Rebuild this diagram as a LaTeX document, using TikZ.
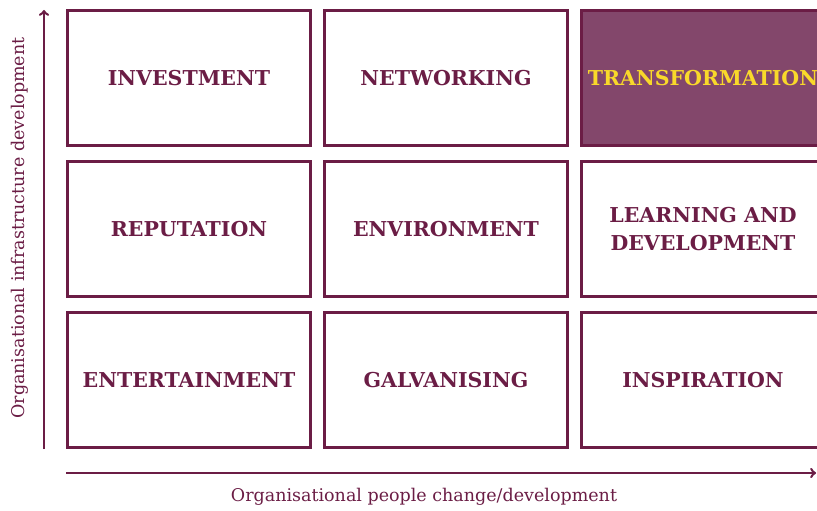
\documentclass[tikz,border=0pt]{standalone}
\usepackage{fontspec}
\setmainfont{DejaVu Serif}
\usetikzlibrary{positioning, arrows}
\definecolor{plum}{HTML}{6B1D45}
\definecolor{plumfill}{HTML}{83476B}
\definecolor{gold}{HTML}{F9D92A}
\tikzset{
box/.style={draw=plum, line width=2.8pt, minimum width=243.2pt, minimum height=135.2pt, inner sep=0pt, align=center, text=plum, font=\bfseries\fontsize{20.5}{28}\selectfont}, % one cell of the grid
axis/.style={draw=plum, line width=2.5pt, -to}, % the two arrows
axislabel/.style={text=plum, font=\fontsize{17.5}{20}\selectfont}, % text along the arrows
}

\begin{document}
\begin{tikzpicture}[x=1pt, y=-1pt, node distance={13pt and 11pt}]
    \clip (0,0) rectangle (817,511);

    \node[box] (inv) at (189,78) {INVESTMENT};
    \node[box] (net) [right=of inv] {NETWORKING};
    \node[box, fill=plumfill, text=gold] (tra) [right=of net] {TRANSFORMATION};
    \node[box] (rep) [below=of inv] {REPUTATION};
    \node[box] (env) [right=of rep] {ENVIRONMENT};
    \node[box] (lea) [right=of env] {LEARNING AND\\DEVELOPMENT};
    \node[box] (ent) [below=of rep] {ENTERTAINMENT};
    \node[box] (gal) [right=of ent] {GALVANISING};
    \node[box] (ins) [right=of gal] {INSPIRATION};

    \coordinate (y0) at (44,449);
    \coordinate (y1) at (44,10);
    \coordinate (x0) at (66,473);
    \coordinate (x1) at (816,473);
    \draw[axis] (y0) -- (y1);
    \draw[axis] (x0) -- (x1);

    \node[axislabel, rotate=90] (ylab) at (20,228) {Organisational infrastructure development};
    \node[axislabel] (xlab) at (424,497) {Organisational people change/development};
\end{tikzpicture}
\end{document}
